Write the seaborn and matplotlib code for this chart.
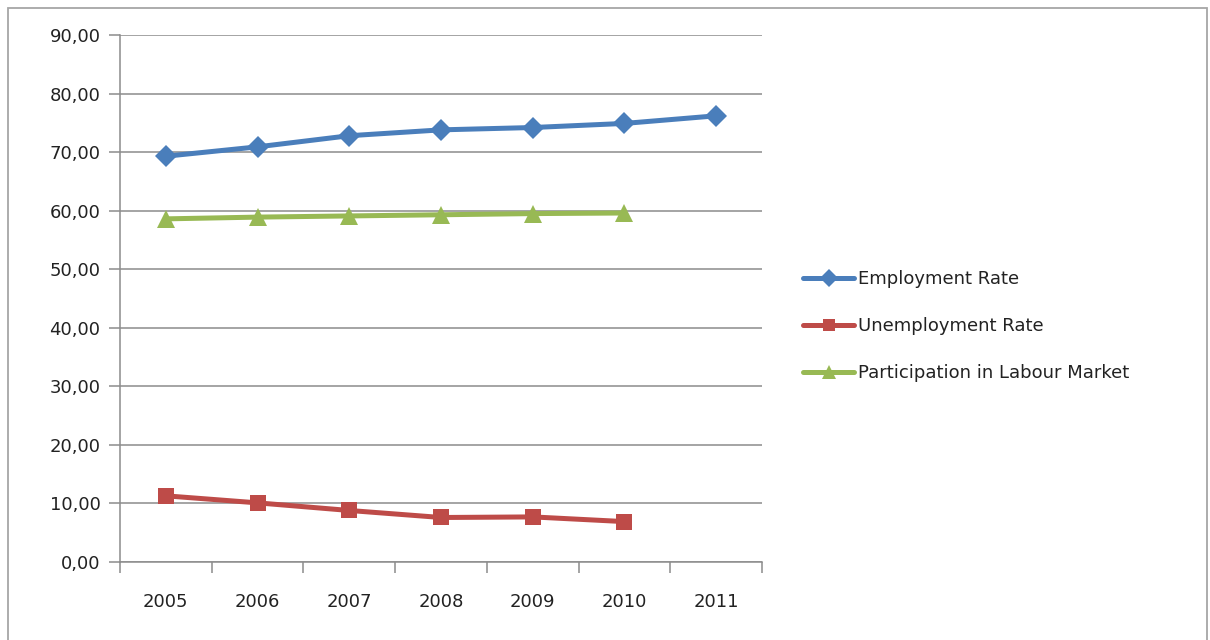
import matplotlib
matplotlib.use("Agg")
import matplotlib.pyplot as plt
from matplotlib.patches import Rectangle
from matplotlib.ticker import FixedLocator, FuncFormatter
import seaborn as sns
import pandas as pd

years = [2005, 2006, 2007, 2008, 2009, 2010, 2011]
employment_rate = [69.3, 70.9, 72.8, 73.8, 74.2, 74.9, 76.2]
unemployment_years = [2005, 2006, 2007, 2008, 2009, 2010]
unemployment_rate = [11.3, 10.1, 8.8, 7.6, 7.7, 6.9]
participation_years = [2005, 2006, 2007, 2008, 2009, 2010]
participation_rate = [58.6, 58.9, 59.1, 59.3, 59.5, 59.6]

series_names = ["Employment Rate", "Unemployment Rate", "Participation in Labour Market"]
colors = ["#4a7ebb", "#be4b48", "#98b954"]
markers = ["D", "s", "^"]
marker_sizes = [11, 11.5, 12.5]

df = pd.concat([
    pd.DataFrame({"Year": years, "Value": employment_rate, "Series": series_names[0]}),
    pd.DataFrame({"Year": unemployment_years, "Value": unemployment_rate, "Series": series_names[1]}),
    pd.DataFrame({"Year": participation_years, "Value": participation_rate, "Series": series_names[2]}),
])

sns.set_style("white")
plt.rcParams["font.family"] = ["DejaVu Sans"]

fig = plt.figure(figsize=(12.1, 6.4), dpi=100)
W, H = 1210, 640
ax = fig.add_axes([120 / W, 1 - 562 / H, (762 - 120) / W, (562 - 35) / H])

for name, col, mk, ms in zip(series_names, colors, markers, marker_sizes):
    sub = df[df["Series"] == name]
    sns.lineplot(data=sub, x="Year", y="Value", ax=ax, color=col, linewidth=3.6,
                 marker=mk, markersize=ms, markeredgewidth=0, label=name, zorder=3)

ax.set_xlim(years[0] - 0.5, years[-1] + 0.5)
ax.set_ylim(0, 90)
ax.set_xlabel("")
ax.set_ylabel("")

grid_col = "#8c8c8c"
fs = 13
ax.yaxis.set_major_locator(FixedLocator(range(0, 91, 10)))
ax.yaxis.set_major_formatter(FuncFormatter(lambda v, p: f"{v:.2f}".replace(".", ",")))
ax.grid(axis="y", color=grid_col, linewidth=1.1, zorder=0)
ax.set_axisbelow(True)

ax.xaxis.set_major_locator(FixedLocator(years))
ax.xaxis.set_major_formatter(FuncFormatter(lambda v, p: f"{int(round(v))}"))
ax.xaxis.set_minor_locator(FixedLocator([y - 0.5 for y in years] + [years[-1] + 0.5]))
ax.tick_params(axis="x", which="major", bottom=True, length=0, pad=22, labelsize=fs,
               labelcolor="#222222")
ax.tick_params(axis="x", which="minor", bottom=True, length=8, width=1.1, color=grid_col,
               direction="out")
ax.tick_params(axis="y", which="major", left=True, length=8, width=1.1, color=grid_col,
               direction="out", pad=6, labelsize=fs, labelcolor="#222222")

for side in ["top", "right"]:
    ax.spines[side].set_visible(False)
for side in ["left", "bottom"]:
    ax.spines[side].set_color(grid_col)
    ax.spines[side].set_linewidth(1.1)

leg = ax.legend(loc="center left", bbox_to_anchor=(796 / W, 1 - 326 / H),
                bbox_transform=fig.transFigure, frameon=False, fontsize=fs,
                handlelength=2.8, handletextpad=0.25, labelspacing=1.6, borderaxespad=0,
                markerscale=0.8)
for t in leg.get_texts():
    t.set_color("#222222")

fig.patches.append(Rectangle((8 / W, -0.05), (1207 - 8) / W, 1.05 - 8 / H,
                             transform=fig.transFigure, fill=False,
                             edgecolor="#a6a6a6", linewidth=1.3))

fig.savefig("out.png", dpi=100)
